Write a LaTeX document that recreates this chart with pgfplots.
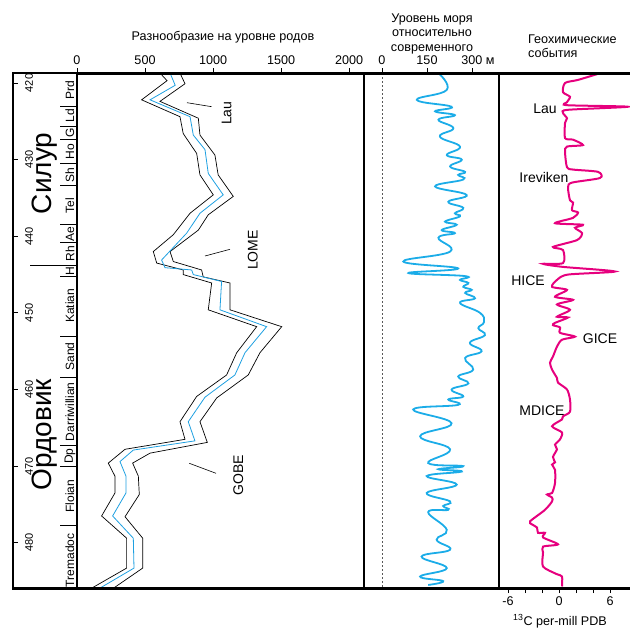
\documentclass[border=0pt]{standalone}
\usepackage{fontspec}
\setmainfont{Liberation Sans}
\usepackage{pgfplots}
\pgfplotsset{compat=1.18}
\definecolor{divblue}{RGB}{30,160,225}
\definecolor{seablue}{RGB}{27,172,232}
\definecolor{cmag}{RGB}{230,0,126}
\newcommand\tf{\fontsize{12.6}{15}\selectfont}
\newcommand\af{\fontsize{14}{16}\selectfont}
\newcommand\stg{\fontsize{12}{14}\selectfont}
\newcommand\agef{\fontsize{11}{13}\selectfont}
\newcommand\perf{\fontsize{28}{30}\selectfont}
\begin{document}
\begin{tikzpicture}[x=1pt,y=1pt]
\path[use as bounding box] (0pt,0pt) rectangle (630pt,-629pt);
\pgfplotsset{panel/.style={scale only axis, anchor=north west, height=515pt,
  y dir=reverse, ymin=418.7, ymax=485.9, clip=false,
  axis line style={draw=none}, tick style={black,line width=0.9pt},
  major tick length=5pt, tick align=outside,
  /pgf/number format/assume math mode=true,
  /pgf/number format/1000 sep={},
  tick label style={font=\tf}, ytick=\empty}}

% time scale column
\begin{axis}[panel, at={(13pt,-73pt)}, width=64pt, xmin=0, xmax=1, xtick=\empty,
  ytick={420,430,440,450,460,470,480}, yticklabels={}, ytick pos=left, tick align=inside]
\pgfplotsinvokeforeach{420,430,440,450,460,470,480}{
  \node[rotate=90,font=\agef] at (axis cs:0.25,#1) {#1};}
\pgfplotsinvokeforeach{423.0,425.6,427.4,430.5,433.4,438.5,440.8,445.2,453.0,458.4,467.3,470.0,477.7}{
  \draw[line width=0.6pt] (axis cs:0.74,#1) -- (axis cs:1,#1);}
\draw[line width=0.8pt] (axis cs:0.27,443.8) -- (axis cs:1,443.8);
\node[rotate=90,font=\stg] at (axis cs:0.89,420.9) {Prd};
\node[rotate=90,font=\stg] at (axis cs:0.89,424.3) {Ld};
\node[rotate=90,font=\stg] at (axis cs:0.89,426.5) {G};
\node[rotate=90,font=\stg] at (axis cs:0.89,429.0) {Ho};
\node[rotate=90,font=\stg] at (axis cs:0.89,432.0) {Sh};
\node[rotate=90,font=\stg] at (axis cs:0.89,436.0) {Tel};
\node[rotate=90,font=\stg] at (axis cs:0.89,439.7) {Ae};
\node[rotate=90,font=\stg] at (axis cs:0.89,442.3) {Rh};
\node[rotate=90,font=\stg] at (axis cs:0.89,444.5) {H};
\node[rotate=90,font=\stg] at (axis cs:0.89,449.1) {Katian};
\node[rotate=90,font=\stg] at (axis cs:0.89,455.7) {Sand};
\node[rotate=90,font=\stg] at (axis cs:0.89,462.9) {Darriwillian};
\node[rotate=90,font=\stg] at (axis cs:0.89,468.7) {Dp};
\node[rotate=90,font=\stg] at (axis cs:0.89,473.9) {Floian};
\node[rotate=90,font=\stg] at (axis cs:0.89,482.3) {Tremadoc};
\node[rotate=90,font=\perf] at (axis cs:0.49,431.8) {Силур};
\node[rotate=90,font=\perf] at (axis cs:0.50,465.9) {Ордовик};
\end{axis}

% generic diversity
\begin{axis}[panel, at={(77pt,-73pt)}, width=287pt, xmin=0, xmax=2110,
  xtick={0,500,1000,1500,2000}, xtick pos=right, xticklabel pos=right]
\addplot[black, line width=0.7pt] coordinates {
(610,418.7) (662,419.7) (475,422.2) (757,424.4) (781,426.6) (880,429.2)
(904,432.0) (1002,434.6) (831,437.0) (708,439.8) (561,442.0) (586,443.5)
(781,444.4) (781,445.0) (990,446.1) (965,449.6) (1321,451.8) (1174,455.2)
(1100,458.1) (880,460.9) (757,464.2) (794,466.5) (353,467.8) (230,469.6)
(279,471.3) (279,473.5) (181,476.5) (365,479.4) (365,483.3) (110,485.9)};
\addplot[black, line width=0.7pt] coordinates {
(757,418.7) (794,420.1) (610,422.4) (892,424.6) (904,426.8) (1014,429.4)
(1038,432.0) (1149,434.8) (965,437.2) (892,439.2) (684,442.0) (708,443.3)
(916,444.4) (928,445.3) (1125,446.1) (1125,449.6) (1505,451.8) (1345,455.2)
(1259,458.1) (1027,461.1) (904,464.2) (958,466.9) (537,468.3) (409,469.6)
(451,471.3) (458,473.7) (353,476.6) (483,479.4) (483,483.3) (270,485.9)};
\addplot[divblue, line width=0.8pt] coordinates {
(684,418.7) (722,420.3) (537,422.2) (831,424.4) (855,426.8) (941,428.7)
(965,431.8) (1075,434.6) (904,437.0) (806,439.6) (622,443.1) (647,444.1)
(843,444.4) (855,445.0) (1063,445.9) (1051,449.6) (1394,451.8) (1235,455.2)
(1161,458.1) (941,461.0) (818,464.2) (867,466.7) (414,467.9) (316,469.4)
(360,471.3) (360,473.5) (262,476.5) (414,479.4) (419,483.3) (170,485.9)};
\end{axis}

% sea level
\begin{axis}[panel, at={(364pt,-73pt)}, width=135pt, xmin=-60, xmax=390,
  xtick={0,150,300}, xticklabels={0,150,300\rlap{\ м}}, xtick pos=right, xticklabel pos=right]
\addplot[gray!70!black, line width=0.8pt, dash pattern=on 2pt off 2pt] coordinates {(0,418.7) (0,485.9)};
\addplot[seablue, line width=1.8pt, smooth, tension=0.75] coordinates {
(188,418.7) (216,420.9) (116,422.2) (232,423.1) (177,423.7) (243,424.2)
(188,424.8) (238,425.9) (193,427.0) (260,428.3) (216,429.4) (266,430.0)
(227,430.9) (277,431.6) (254,432.0) (271,432.6) (177,433.5) (282,434.6)
(221,435.5) (271,436.3) (243,437.0) (260,437.4) (210,438.1) (249,438.5)
(199,439.2) (243,439.6) (188,440.2) (227,442.0) (71,443.3) (254,444.2)
(88,444.8) (277,445.2) (260,445.7) (288,446.1) (271,446.6) (299,447.0)
(277,447.4) (310,448.1) (260,448.7) (327,450.0) (340,451.2) (321,452.0)
(343,452.9) (293,453.9) (332,455.0) (277,455.9) (304,457.4) (254,458.3)
(288,459.2) (232,460.0) (271,460.9) (221,461.3) (254,462.0) (104,462.6)
(232,464.4) (127,466.1) (227,467.8) (154,469.6) (271,470.0) (188,470.4)
(266,470.7) (149,471.3) (249,472.4) (149,473.5) (227,474.6) (204,475.2)
(221,475.7) (154,476.0) (216,478.3) (182,479.6) (227,480.9) (132,481.8)
(216,483.3) (127,484.4) (204,485.0) (154,485.5)};
\end{axis}

% carbon isotopes
\begin{axis}[panel, at={(499pt,-73pt)}, width=131pt, xmin=-7.06, xmax=8.35,
  xtick={-6,-4,-2,0,2,4,6}, xticklabels={-6,,,0,,,6}, xtick pos=left, xticklabel pos=left]
\addplot[cmag, line width=2pt, smooth, tension=0.45] coordinates {
(4.9,418.7) (2.24,419.6) (0.71,420.0) (0.47,421.2) (1.29,421.8) (0.94,422.5)
(0.94,422.9) (8.1,423.1) (1.06,423.5) (0.47,423.9) (0.94,424.6) (0.71,425.2)
(0.71,427.2) (1.65,427.4) (2.82,428.1) (0.94,428.3) (0.71,429.0) (0.94,431.0)
(1.65,431.3) (4.59,431.6) (4.82,432.4) (1.53,433.0) (1.06,433.6) (1.29,435.3)
(1.65,435.6) (1.53,436.6) (2.24,436.9) (1.65,437.6) (-0.47,438.3) (2.82,438.5)
(1.88,438.9) (2.71,439.6) (2.12,440.5) (-0.71,441.4) (0.47,441.8) (0.47,443.5)
(-1.88,443.6) (0.47,444.0) (6.59,444.6) (1.06,445.0) (-0.24,445.7) (-0.82,446.6)
(0.94,447.0) (-0.47,447.9) (1.65,448.3) (-0.24,448.9) (1.29,449.6) (-0.24,450.5)
(1.06,450.6) (-0.47,451.3) (-0.71,451.6) (0.12,451.9) (0.12,452.6) (1.88,453.1)
(0.35,453.5) (-0.24,454.4) (-0.71,455.7) (-1.06,456.5) (-0.82,457.4) (-0.24,458.5)
(-0.12,459.1) (0.94,460.0) (1.29,461.3) (1.29,462.9) (0.47,463.5) (0.35,463.9)
(-0.82,464.8) (0.35,465.6) (0.12,466.5) (-0.47,467.2) (-0.24,467.8) (-0.71,468.8)
(-0.47,469.5) (-0.82,469.8) (-0.47,470.5) (-0.47,472.2) (-0.82,473.5) (-1.41,473.7)
(-0.82,474.1) (-0.82,474.6) (-1.65,475.7) (-3.41,477.2) (-3.18,477.6) (-2.59,478.0)
(-2.47,478.7) (-1.65,478.7) (-1.88,479.3) (-0.12,480.2) (-1.88,480.5) (-1.88,481.3)
(-1.88,483.1) (-0.24,484.1) (0.35,484.4) (0.35,485.7)};
\end{axis}

% frames
\draw[line width=1.5pt] (13pt,-73pt) -- (77pt,-73pt);
\draw[line width=2pt] (13pt,-72pt) -- (13pt,-589pt);
\draw[line width=2pt] (77pt,-72pt) -- (77pt,-589pt);
\draw[line width=1.8pt] (364pt,-72pt) -- (364pt,-589pt);
\draw[line width=1.8pt] (499pt,-72pt) -- (499pt,-589pt);
\draw[line width=3pt] (76pt,-73pt) -- (630pt,-73pt);
\draw[line width=3pt] (12pt,-588pt) -- (630pt,-588pt);

% titles
\node[font=\tf, anchor=base] at (223pt,-40pt) {Разнообразие на уровне родов};
\node[font=\tf, anchor=base] at (432pt,-22pt) {Уровень моря};
\node[font=\tf, anchor=base] at (432pt,-36.5pt) {относительно};
\node[font=\tf, anchor=base] at (432pt,-51pt) {современного};
\node[font=\tf, anchor=base west, inner sep=0pt] at (528pt,-43pt) {Геохимические};
\node[font=\tf, anchor=base west, inner sep=0pt] at (528pt,-57pt) {события};
\node[font=\tf, anchor=base] at (560pt,-625pt) {\textsuperscript{13}C per-mill PDB};

% event annotations
\node[rotate=90, font=\af] at (226.7pt,-113.3pt) {Lau};
\draw[line width=0.6pt] (187pt,-102.7pt) -- (211.7pt,-106.7pt);
\node[rotate=90, font=\af] at (252.7pt,-250pt) {LOME};
\draw[line width=0.6pt] (205pt,-256pt) -- (230pt,-249.3pt);
\node[rotate=90, font=\af] at (238.3pt,-475pt) {GOBE};
\draw[line width=0.6pt] (189.3pt,-463.3pt) -- (216pt,-473.3pt);
\node[font=\af, anchor=base] at (545pt,-113pt) {Lau};
\node[font=\af, anchor=base] at (544pt,-182pt) {Ireviken};
\node[font=\af, anchor=base] at (528pt,-285pt) {HICE};
\node[font=\af, anchor=base] at (600pt,-343pt) {GICE};
\node[font=\af, anchor=base] at (542pt,-415pt) {MDICE};
\end{tikzpicture}
\end{document}
